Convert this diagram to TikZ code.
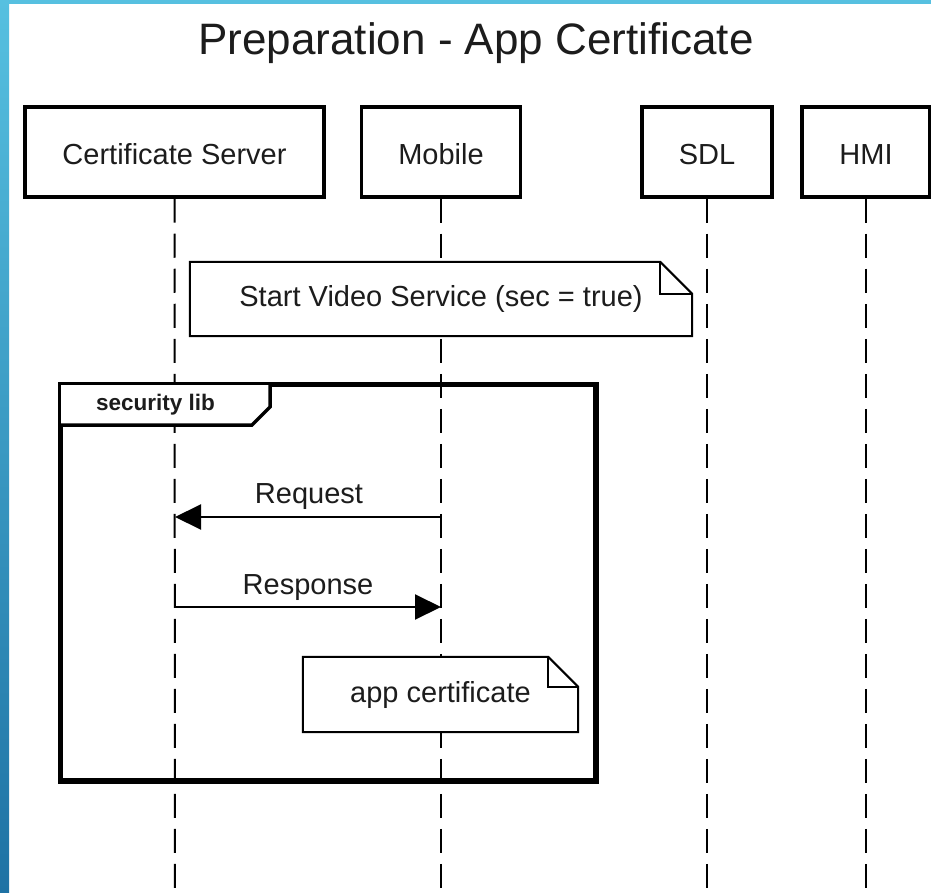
\documentclass[tikz,border=0pt]{standalone}
\usepackage{fontspec}
\setmainfont{Liberation Sans}
\usetikzlibrary{arrows.meta}
\definecolor{bordertop}{HTML}{56C0E0}
\definecolor{borderbot}{HTML}{1E72A4}
\definecolor{txt}{HTML}{1C1C1C}
\tikzset{
  actor/.style={draw=black, line width=3.5pt, fill=white, inner sep=0pt,
    text=txt, text height=27pt, text depth=2pt,
    font=\fontsize{29}{32}\selectfont},
  lifeline/.style={line width=2pt, dash pattern=on 24pt off 11pt},
  notebox/.style={fill=white, inner sep=0pt, text=txt, font=\fontsize{29}{32}\selectfont},
  noteline/.style={draw=black, line width=2pt, line join=miter},
  msg/.style={line width=2pt, -{Triangle[length=26pt,width=25pt]}},
  lbl/.style={inner sep=0pt, anchor=base, text=txt, font=\fontsize{29}{32}\selectfont},
  framebox/.style={draw=black, line width=3.5pt, inner sep=0pt},
}
\begin{document}
\begin{tikzpicture}[x=1pt,y=-1pt]
\useasboundingbox (0,0) rectangle (931,893);
% background and blue border
\fill[white] (0,0) rectangle (931,893);
\shade[top color=bordertop, bottom color=borderbot] (0,0) rectangle (9,893);
\fill[bordertop] (0,0) rectangle (931,4.5);

% title
\node[inner sep=0pt, anchor=base, text=txt, font=\fontsize{44}{48}\selectfont] (title) at (476,55) {Preparation - App Certificate};

% participants
\node[actor, minimum width=299pt, minimum height=90pt] (cs) at (174.5,152) {Certificate Server};
\node[actor, minimum width=159pt, minimum height=90pt] (mob) at (441,152) {Mobile};
\node[actor, minimum width=130pt, minimum height=90pt] (sdl) at (707,152) {SDL};
\node[actor, minimum width=128pt, minimum height=90pt] (hmi) at (866,152) {HMI};

% lifeline ends
\coordinate (csend) at (175,900);
\coordinate (mobend) at (441,900);
\coordinate (sdlend) at (707,900);
\coordinate (hmiend) at (866,900);
\draw[lifeline] (cs.south) -- (csend);
\draw[lifeline] (mob.south) -- (mobend);
\draw[lifeline] (sdl.south) -- (sdlend);
\draw[lifeline] (hmi.south) -- (hmiend);

% note 1
\node[notebox, minimum width=502pt, minimum height=74pt] (n1) at (441,299) {Start Video Service (sec = true)};
\draw[noteline] (n1.south west) -- (n1.north west) -- ([xshift=-32pt]n1.north east)
  -- ([yshift=-32pt]n1.north east) -- (n1.south east) -- cycle;
\draw[noteline] ([xshift=-32pt]n1.north east) -- ([xshift=-32pt,yshift=-32pt]n1.north east)
  -- ([yshift=-32pt]n1.north east);

% frame
\node[framebox, minimum width=534pt, minimum height=395pt] (fr) at (328,582.5) {};
\coordinate (t1) at (61,425);
\coordinate (t2) at (252,425);
\coordinate (t3) at (270,407);
\coordinate (t4) at (270,385);
\fill[white] (fr.north west) -- (t1) -- (t2) -- (t3) -- (t4) -- cycle;
\draw[line width=3.5pt, line join=miter] (t1) -- (t2) -- (t3) -- (t4);
\draw[framebox] (fr.north west) rectangle (fr.south east);
\node[inner sep=0pt, text=txt, font=\bfseries\fontsize{22.5}{26}\selectfont] (tab) at (155.5,405) {security lib};

% messages
\coordinate (reqm) at (441,517);
\coordinate (reqc) at (175,517);
\coordinate (resc) at (175,607);
\coordinate (resm) at (441,607);
\draw[msg] (reqm) -- (reqc);
\draw[msg] (resc) -- (resm);
\node[lbl] (reqlbl) at (309,503) {Request};
\node[lbl] (reslbl) at (308,594) {Response};

% note 2
\node[notebox, minimum width=275pt, minimum height=75pt] (n2) at (440.5,694.5) {app certificate};
\draw[noteline] (n2.south west) -- (n2.north west) -- ([xshift=-30pt]n2.north east)
  -- ([yshift=-30pt]n2.north east) -- (n2.south east) -- cycle;
\draw[noteline] ([xshift=-30pt]n2.north east) -- ([xshift=-30pt,yshift=-30pt]n2.north east)
  -- ([yshift=-30pt]n2.north east);
\end{tikzpicture}
\end{document}
